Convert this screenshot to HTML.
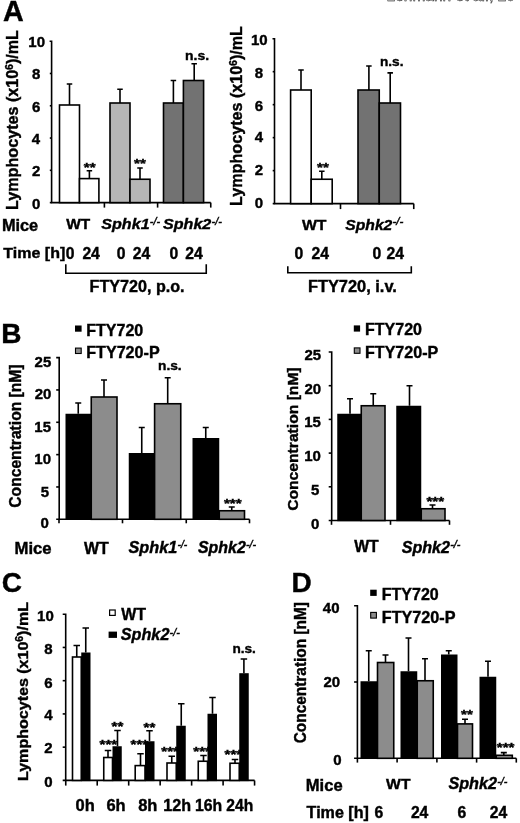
<!DOCTYPE html>
<html><head><meta charset="utf-8"><title>Figure</title>
<style>
html,body{margin:0;padding:0;background:#fff;}
svg{display:block;font-family:"Liberation Sans", Arial, Helvetica, sans-serif;font-weight:bold;fill:#000;}
text{stroke:#000;stroke-width:0.4px;}
</style></head><body>
<svg width="520" height="823" viewBox="0 0 520 823" shape-rendering="geometricPrecision">
<rect width="520" height="823" fill="#fff"/>
<text x="515" y="1.2" font-size="15.5" text-anchor="end" font-weight="normal" fill="#cfcfcf" stroke="none">Lehmann et al., 20</text>
<text x="2.9" y="21.4" font-size="28.7">A</text>
<text x="1.2" y="343.0" font-size="28">B</text>
<text x="1.8" y="592.4" font-size="28">C</text>
<text x="291.5" y="592.3" font-size="28">D</text>
<path d="M49.6 41.2H51.6V202.6H210.75" fill="none" stroke="#000" stroke-width="1.6"/>
<path d="M49.800000000000004 202.6H51.6" fill="none" stroke="#000" stroke-width="1.6"/>
<path d="M49.800000000000004 170.32H51.6" fill="none" stroke="#000" stroke-width="1.6"/>
<path d="M49.800000000000004 138.04H51.6" fill="none" stroke="#000" stroke-width="1.6"/>
<path d="M49.800000000000004 105.76H51.6" fill="none" stroke="#000" stroke-width="1.6"/>
<path d="M49.800000000000004 73.48H51.6" fill="none" stroke="#000" stroke-width="1.6"/>
<path d="M104.4 202.6V207.6" fill="none" stroke="#000" stroke-width="1.6"/>
<path d="M157.6 202.6V207.6" fill="none" stroke="#000" stroke-width="1.6"/>
<path d="M210.75 202.6V207.6" fill="none" stroke="#000" stroke-width="1.6"/>
<text x="36.2" y="208.57" font-size="15" text-anchor="middle">0</text>
<text x="36.1" y="176.27" font-size="15" text-anchor="middle">2</text>
<text x="36.0" y="143.57" font-size="15" text-anchor="middle">4</text>
<text x="36.1" y="112.07" font-size="15" text-anchor="middle">6</text>
<text x="36.1" y="79.37" font-size="15" text-anchor="middle">8</text>
<text x="36.65" y="46.97" font-size="15" text-anchor="middle">10</text>
<text x="17.6" y="210" font-size="16" textLength="180" lengthAdjust="spacingAndGlyphs" transform="rotate(-90 17.6 210)">Lymphocytes (x10<tspan font-size="10" dy="-5">6</tspan><tspan dy="5">)/mL</tspan></text>
<text x="83.8" y="171.5" font-size="13" textLength="11.8" lengthAdjust="spacingAndGlyphs" stroke-width="0.35">**</text>
<text x="134.1" y="167.6" font-size="13" textLength="11.8" lengthAdjust="spacingAndGlyphs" stroke-width="0.35">**</text>
<path d="M69.5 105V84M66.75 84H72.25" fill="none" stroke="#000" stroke-width="1.6"/>
<rect x="59.5" y="105" width="20.0" height="97.6" fill="#fff" stroke="#000" stroke-width="1.6"/>
<path d="M89.4 178.6V170.75M86.65 170.75H92.15" fill="none" stroke="#000" stroke-width="1.6"/>
<rect x="79.5" y="178.6" width="19.4" height="24.0" fill="#fff" stroke="#000" stroke-width="1.6"/>
<path d="M120 103V89.25M117.25 89.25H122.75" fill="none" stroke="#000" stroke-width="1.6"/>
<rect x="110" y="103" width="20" height="99.6" fill="#b6b6b6" stroke="#000" stroke-width="1.6"/>
<path d="M140 179.25V168M137.25 168H142.75" fill="none" stroke="#000" stroke-width="1.6"/>
<rect x="130" y="179.25" width="20" height="23.35" fill="#b6b6b6" stroke="#000" stroke-width="1.6"/>
<path d="M173.4 103V80.5M170.65 80.5H176.15" fill="none" stroke="#000" stroke-width="1.6"/>
<rect x="163.5" y="103" width="19.9" height="99.6" fill="#727272" stroke="#000" stroke-width="1.6"/>
<path d="M194.2 80.5V63.75M191.45 63.75H196.95" fill="none" stroke="#000" stroke-width="1.6"/>
<rect x="183.4" y="80.5" width="20.2" height="122.1" fill="#727272" stroke="#000" stroke-width="1.6"/>
<text x="185" y="60" font-size="13.6" textLength="24" lengthAdjust="spacingAndGlyphs">n.s.</text>
<text x="1.9" y="231" font-size="15.8" textLength="36.3" lengthAdjust="spacingAndGlyphs">Mice</text>
<text x="66.2" y="229.4" font-size="15" textLength="24" lengthAdjust="spacingAndGlyphs">WT</text>
<text x="101.3" y="229.3" font-size="15.5" font-style="italic" textLength="48.3" lengthAdjust="spacingAndGlyphs">Sphk1</text>
<text x="149.79999999999998" y="224.9" font-size="10" font-style="italic" font-weight="normal" textLength="10.300000000000002" lengthAdjust="spacingAndGlyphs">-/-</text>
<text x="163" y="229.3" font-size="15.5" font-style="italic" textLength="48.3" lengthAdjust="spacingAndGlyphs">Sphk2</text>
<text x="211.5" y="224.9" font-size="10" font-style="italic" font-weight="normal" textLength="10.300000000000002" lengthAdjust="spacingAndGlyphs">-/-</text>
<text x="3.3" y="258.2" font-size="15.3" textLength="62" lengthAdjust="spacingAndGlyphs">Time [h]</text>
<text x="65.7" y="258.7" font-size="15.7">0</text>
<text x="82.4" y="258.7" font-size="15.7">24</text>
<text x="116.7" y="258.7" font-size="15.7">0</text>
<text x="132.8" y="258.7" font-size="15.7">24</text>
<text x="169.5" y="258.7" font-size="15.7">0</text>
<text x="185.3" y="258.7" font-size="15.7">24</text>
<path d="M65.8 264.3V273.3H206.25V264.3" fill="none" stroke="#000" stroke-width="1.6"/>
<text x="89.6" y="292.2" font-size="16" textLength="95" lengthAdjust="spacingAndGlyphs">FTY720, p.o.</text>
<path d="M272.5 38.7H274.5V203.6H413.75" fill="none" stroke="#000" stroke-width="1.6"/>
<path d="M272.7 203.6H274.5" fill="none" stroke="#000" stroke-width="1.6"/>
<path d="M272.7 170.62H274.5" fill="none" stroke="#000" stroke-width="1.6"/>
<path d="M272.7 137.64H274.5" fill="none" stroke="#000" stroke-width="1.6"/>
<path d="M272.7 104.66H274.5" fill="none" stroke="#000" stroke-width="1.6"/>
<path d="M272.7 71.68H274.5" fill="none" stroke="#000" stroke-width="1.6"/>
<path d="M340.5 203.6V209.1" fill="none" stroke="#000" stroke-width="1.6"/>
<path d="M413.75 203.6V209.1" fill="none" stroke="#000" stroke-width="1.6"/>
<text x="259" y="207.57" font-size="15" text-anchor="middle">0</text>
<text x="258.9" y="174.77" font-size="15" text-anchor="middle">2</text>
<text x="258.9" y="142.27" font-size="15" text-anchor="middle">4</text>
<text x="259" y="111.07" font-size="15" text-anchor="middle">6</text>
<text x="259" y="78.27" font-size="15" text-anchor="middle">8</text>
<text x="259.25" y="45.47" font-size="15" text-anchor="middle">10</text>
<text x="242.3" y="206" font-size="16" textLength="180" lengthAdjust="spacingAndGlyphs" transform="rotate(-90 242.3 206)">Lymphocytes (x10<tspan font-size="10" dy="-5">6</tspan><tspan dy="5">)/mL</tspan></text>
<text x="317.1" y="171.7" font-size="13" textLength="11.8" lengthAdjust="spacingAndGlyphs" stroke-width="0.35">**</text>
<path d="M301 90V70M298.25 70H303.75" fill="none" stroke="#000" stroke-width="1.6"/>
<rect x="290.6" y="90" width="20.6" height="113.6" fill="#fff" stroke="#000" stroke-width="1.6"/>
<path d="M321.8 179.25V171.25M319.05 171.25H324.55" fill="none" stroke="#000" stroke-width="1.6"/>
<rect x="311.2" y="179.25" width="21.0" height="24.35" fill="#fff" stroke="#000" stroke-width="1.6"/>
<path d="M368.9 90V66M366.15 66H371.65" fill="none" stroke="#000" stroke-width="1.6"/>
<rect x="358" y="90" width="21.25" height="113.6" fill="#727272" stroke="#000" stroke-width="1.6"/>
<path d="M390.2 103V72.9M387.45 72.9H392.95" fill="none" stroke="#000" stroke-width="1.6"/>
<rect x="379.25" y="103" width="21.25" height="100.6" fill="#727272" stroke="#000" stroke-width="1.6"/>
<text x="380" y="66.4" font-size="13.6" textLength="23.5" lengthAdjust="spacingAndGlyphs">n.s.</text>
<text x="301.9" y="229.8" font-size="15.5" textLength="24.6" lengthAdjust="spacingAndGlyphs">WT</text>
<text x="345.3" y="229.6" font-size="15.5" font-style="italic" textLength="47" lengthAdjust="spacingAndGlyphs">Sphk2</text>
<text x="392.5" y="225.2" font-size="10" font-style="italic" font-weight="normal" textLength="10.899999999999997" lengthAdjust="spacingAndGlyphs">-/-</text>
<text x="294.4" y="258.7" font-size="15.7">0</text>
<text x="311.6" y="258.7" font-size="15.7">24</text>
<text x="372.5" y="258.7" font-size="15.7">0</text>
<text x="386.6" y="258.7" font-size="15.7">24</text>
<path d="M287.8 266.2V272.8H411.3V266.2" fill="none" stroke="#000" stroke-width="1.6"/>
<text x="307.9" y="292.3" font-size="16" textLength="89" lengthAdjust="spacingAndGlyphs">FTY720, i.v.</text>
<path d="M56.2 357.6H59.2V519.3" fill="none" stroke="#000" stroke-width="1.6"/>
<path d="M56.2 519.3H249.5" fill="none" stroke="#000" stroke-width="1.6"/>
<path d="M56.2 486.96H59.2" fill="none" stroke="#000" stroke-width="1.6"/>
<path d="M56.2 454.62H59.2" fill="none" stroke="#000" stroke-width="1.6"/>
<path d="M56.2 422.28H59.2" fill="none" stroke="#000" stroke-width="1.6"/>
<path d="M56.2 389.94H59.2" fill="none" stroke="#000" stroke-width="1.6"/>
<path d="M59 519.3V523.3" fill="none" stroke="#000" stroke-width="1.6"/>
<path d="M122.5 519.3V523.3" fill="none" stroke="#000" stroke-width="1.6"/>
<path d="M186.25 519.3V523.3" fill="none" stroke="#000" stroke-width="1.6"/>
<path d="M249.5 519.3V523.3" fill="none" stroke="#000" stroke-width="1.6"/>
<text x="44.7" y="528.07" font-size="15" text-anchor="middle">0</text>
<text x="44.8" y="496.57" font-size="15" text-anchor="middle">5</text>
<text x="42.65" y="463.87" font-size="15" text-anchor="middle">10</text>
<text x="42.65" y="431.87" font-size="15" text-anchor="middle">15</text>
<text x="43.0" y="399.37" font-size="15" text-anchor="middle">20</text>
<text x="42.9" y="366.67" font-size="15" text-anchor="middle">25</text>
<text x="21.5" y="507.7" font-size="15.7" textLength="143.3" lengthAdjust="spacingAndGlyphs" transform="rotate(-90 21.5 507.7)">Concentration [nM]</text>
<text x="223.9" y="507.9" font-size="13" textLength="17.7" lengthAdjust="spacingAndGlyphs" stroke-width="0.35">***</text>
<path d="M78.25 413.75V403M75.25 403H81.25" fill="none" stroke="#000" stroke-width="1.6"/>
<rect x="65.5" y="413.75" width="25.75" height="106.25" fill="#000"/>
<path d="M104 397V380M101.0 380H107.0" fill="none" stroke="#000" stroke-width="1.6"/>
<rect x="91.25" y="397" width="25.75" height="122.3" fill="#8c8c8c" stroke="#000" stroke-width="1.6"/>
<path d="M141.75 453V427.5M138.75 427.5H144.75" fill="none" stroke="#000" stroke-width="1.6"/>
<rect x="128.75" y="453" width="25.85" height="67.0" fill="#000"/>
<path d="M167.7 403.75V377.8M164.7 377.8H170.7" fill="none" stroke="#000" stroke-width="1.6"/>
<rect x="154.6" y="403.75" width="26.15" height="115.55" fill="#8c8c8c" stroke="#000" stroke-width="1.6"/>
<path d="M205.75 438V427.5M202.75 427.5H208.75" fill="none" stroke="#000" stroke-width="1.6"/>
<rect x="192.5" y="438" width="26.75" height="82.0" fill="#000"/>
<path d="M231.75 510.75V507M228.75 507H234.75" fill="none" stroke="#000" stroke-width="1.6"/>
<rect x="219.25" y="510.75" width="25.25" height="8.55" fill="#8c8c8c" stroke="#000" stroke-width="1.6"/>
<text x="158" y="369.7" font-size="13.6" textLength="23.7" lengthAdjust="spacingAndGlyphs">n.s.</text>
<rect x="75" y="325.5" width="6.6" height="6.2" fill="#000"/>
<rect x="75.5" y="348.1" width="5.7" height="5.4" fill="#8c8c8c" stroke="#000" stroke-width="1.1"/>
<text x="86.25" y="335.5" font-size="16.2" textLength="57" lengthAdjust="spacingAndGlyphs">FTY720</text>
<text x="86.25" y="357.5" font-size="16.2" textLength="73.4" lengthAdjust="spacingAndGlyphs">FTY720-P</text>
<text x="14.5" y="554.4" font-size="15.8" textLength="37.1" lengthAdjust="spacingAndGlyphs">Mice</text>
<text x="83.9" y="554" font-size="15.7" textLength="24.8" lengthAdjust="spacingAndGlyphs">WT</text>
<text x="128.5" y="552.7" font-size="15.7" font-style="italic" textLength="48.8" lengthAdjust="spacingAndGlyphs">Sphk1</text>
<text x="177.5" y="548.3000000000001" font-size="10" font-style="italic" font-weight="normal" textLength="9.800000000000002" lengthAdjust="spacingAndGlyphs">-/-</text>
<text x="198" y="552.7" font-size="15.7" font-style="italic" textLength="47.8" lengthAdjust="spacingAndGlyphs">Sphk2</text>
<text x="246.0" y="548.3000000000001" font-size="10" font-style="italic" font-weight="normal" textLength="10.200000000000001" lengthAdjust="spacingAndGlyphs">-/-</text>
<path d="M328.7 352H331.7V520.5" fill="none" stroke="#000" stroke-width="1.6"/>
<path d="M328.7 520.5H449.5" fill="none" stroke="#000" stroke-width="1.6"/>
<path d="M328.7 486.8H331.7" fill="none" stroke="#000" stroke-width="1.6"/>
<path d="M328.7 453.1H331.7" fill="none" stroke="#000" stroke-width="1.6"/>
<path d="M328.7 419.4H331.7" fill="none" stroke="#000" stroke-width="1.6"/>
<path d="M328.7 385.7H331.7" fill="none" stroke="#000" stroke-width="1.6"/>
<path d="M331.5 520.5V524.8" fill="none" stroke="#000" stroke-width="1.6"/>
<path d="M390.5 520.5V524.8" fill="none" stroke="#000" stroke-width="1.6"/>
<path d="M449.5 520.5V524.8" fill="none" stroke="#000" stroke-width="1.6"/>
<text x="315.1" y="528.57" font-size="15" text-anchor="middle">0</text>
<text x="315.1" y="494.77" font-size="15" text-anchor="middle">5</text>
<text x="312.55" y="461.07" font-size="15" text-anchor="middle">10</text>
<text x="312.55" y="427.17" font-size="15" text-anchor="middle">15</text>
<text x="312.8" y="393.67" font-size="15" text-anchor="middle">20</text>
<text x="312.8" y="360.07" font-size="15" text-anchor="middle">25</text>
<text x="297.7" y="510.8" font-size="15.3" textLength="143.5" lengthAdjust="spacingAndGlyphs" transform="rotate(-90 297.7 510.8)">Concentration [nM]</text>
<text x="426.4" y="506.0" font-size="13" textLength="17.7" lengthAdjust="spacingAndGlyphs" stroke-width="0.35">***</text>
<path d="M350 413.75V398.75M347.0 398.75H353.0" fill="none" stroke="#000" stroke-width="1.6"/>
<rect x="337.25" y="413.75" width="24.0" height="107.45" fill="#000"/>
<path d="M373.25 405.75V393.75M370.25 393.75H376.25" fill="none" stroke="#000" stroke-width="1.6"/>
<rect x="361.25" y="405.75" width="23.75" height="114.75" fill="#8c8c8c" stroke="#000" stroke-width="1.6"/>
<path d="M409.5 405.75V385.75M406.5 385.75H412.5" fill="none" stroke="#000" stroke-width="1.6"/>
<rect x="396.25" y="405.75" width="25.0" height="115.45" fill="#000"/>
<path d="M432.5 508.75V505M429.5 505H435.5" fill="none" stroke="#000" stroke-width="1.6"/>
<rect x="421.25" y="508.75" width="23.75" height="11.75" fill="#8c8c8c" stroke="#000" stroke-width="1.6"/>
<rect x="353.8" y="325.4" width="6.3" height="6.2" fill="#000"/>
<rect x="354.3" y="347.9" width="5.7" height="5.4" fill="#8c8c8c" stroke="#000" stroke-width="1.1"/>
<text x="365" y="335" font-size="16.2" textLength="57" lengthAdjust="spacingAndGlyphs">FTY720</text>
<text x="365" y="357.5" font-size="16.2" textLength="73.3" lengthAdjust="spacingAndGlyphs">FTY720-P</text>
<text x="354.2" y="552.4" font-size="15.7" textLength="24.5" lengthAdjust="spacingAndGlyphs">WT</text>
<text x="401.7" y="552.5" font-size="15.7" font-style="italic" textLength="48.3" lengthAdjust="spacingAndGlyphs">Sphk2</text>
<text x="450.2" y="548.1" font-size="10" font-style="italic" font-weight="normal" textLength="10.300000000000002" lengthAdjust="spacingAndGlyphs">-/-</text>
<path d="M62.7 614.2H65.7V780.4" fill="none" stroke="#000" stroke-width="1.6"/>
<path d="M62.7 780.4H254.6" fill="none" stroke="#000" stroke-width="1.6"/>
<path d="M62.7 747.16H65.7" fill="none" stroke="#000" stroke-width="1.6"/>
<path d="M62.7 713.92H65.7" fill="none" stroke="#000" stroke-width="1.6"/>
<path d="M62.7 680.68H65.7" fill="none" stroke="#000" stroke-width="1.6"/>
<path d="M62.7 647.44H65.7" fill="none" stroke="#000" stroke-width="1.6"/>
<path d="M65.75 780.4V785.6" fill="none" stroke="#000" stroke-width="1.6"/>
<path d="M97.22 780.4V785.6" fill="none" stroke="#000" stroke-width="1.6"/>
<path d="M128.69 780.4V785.6" fill="none" stroke="#000" stroke-width="1.6"/>
<path d="M160.16 780.4V785.6" fill="none" stroke="#000" stroke-width="1.6"/>
<path d="M191.63 780.4V785.6" fill="none" stroke="#000" stroke-width="1.6"/>
<path d="M223.1 780.4V785.6" fill="none" stroke="#000" stroke-width="1.6"/>
<path d="M254.57 780.4V785.6" fill="none" stroke="#000" stroke-width="1.6"/>
<text x="48.5" y="786.87" font-size="15" text-anchor="middle">0</text>
<text x="48.5" y="753.27" font-size="15" text-anchor="middle">2</text>
<text x="48.4" y="720.27" font-size="15" text-anchor="middle">4</text>
<text x="48.5" y="687.97" font-size="15" text-anchor="middle">6</text>
<text x="48.5" y="654.37" font-size="15" text-anchor="middle">8</text>
<text x="45.4" y="620.87" font-size="15" text-anchor="middle">10</text>
<text x="27.8" y="781" font-size="15.5" textLength="179" lengthAdjust="spacingAndGlyphs" transform="rotate(-90 27.8 781)">Lymphocytes (x10<tspan font-size="10" dy="-5">6</tspan><tspan dy="5">)/mL</tspan></text>
<text x="99.5" y="749.4" font-size="13" textLength="17.7" lengthAdjust="spacingAndGlyphs" stroke-width="0.35">***</text>
<text x="130.5" y="749.4" font-size="13" textLength="17.7" lengthAdjust="spacingAndGlyphs" stroke-width="0.35">***</text>
<text x="161.25" y="756.2" font-size="13" textLength="17.7" lengthAdjust="spacingAndGlyphs" stroke-width="0.35">***</text>
<text x="193.25" y="756.2" font-size="13" textLength="17.7" lengthAdjust="spacingAndGlyphs" stroke-width="0.35">***</text>
<text x="224.5" y="758.7" font-size="13" textLength="17.7" lengthAdjust="spacingAndGlyphs" stroke-width="0.35">***</text>
<text x="111.5" y="731.0" font-size="13" textLength="11.8" lengthAdjust="spacingAndGlyphs" stroke-width="0.35">**</text>
<text x="143.5" y="731.7" font-size="13" textLength="11.8" lengthAdjust="spacingAndGlyphs" stroke-width="0.35">**</text>
<path d="M76.75 657V645.5M73.5 645.5H80.0" fill="none" stroke="#000" stroke-width="1.6"/>
<rect x="72.5" y="657" width="8.75" height="123.4" fill="#fff" stroke="#000" stroke-width="1.6"/>
<path d="M85.75 652.5V628M82.5 628H89.0" fill="none" stroke="#000" stroke-width="1.6"/>
<rect x="81.25" y="652.5" width="9.25" height="128.6" fill="#000"/>
<path d="M108 757.5V750.5M104.75 750.5H111.25" fill="none" stroke="#000" stroke-width="1.6"/>
<rect x="103.75" y="757.5" width="8.75" height="22.9" fill="#fff" stroke="#000" stroke-width="1.6"/>
<path d="M117.5 746.25V730.5M114.25 730.5H120.75" fill="none" stroke="#000" stroke-width="1.6"/>
<rect x="112.5" y="746.25" width="9.25" height="34.85" fill="#000"/>
<path d="M140.5 765.6V753.75M137.25 753.75H143.75" fill="none" stroke="#000" stroke-width="1.6"/>
<rect x="135.2" y="765.6" width="9.8" height="14.8" fill="#fff" stroke="#000" stroke-width="1.6"/>
<path d="M149.5 741.25V730.75M146.25 730.75H152.75" fill="none" stroke="#000" stroke-width="1.6"/>
<rect x="145" y="741.25" width="9.5" height="39.85" fill="#000"/>
<path d="M171.75 763V756.25M168.5 756.25H175.0" fill="none" stroke="#000" stroke-width="1.6"/>
<rect x="167" y="763" width="9.25" height="17.4" fill="#fff" stroke="#000" stroke-width="1.6"/>
<path d="M181.25 725.75V703.75M178.0 703.75H184.5" fill="none" stroke="#000" stroke-width="1.6"/>
<rect x="176.25" y="725.75" width="9.5" height="55.35" fill="#000"/>
<path d="M203.5 761.25V755.5M200.25 755.5H206.75" fill="none" stroke="#000" stroke-width="1.6"/>
<rect x="198.25" y="761.25" width="9.25" height="19.15" fill="#fff" stroke="#000" stroke-width="1.6"/>
<path d="M212.5 713.75V697.5M209.25 697.5H215.75" fill="none" stroke="#000" stroke-width="1.6"/>
<rect x="207.5" y="713.75" width="9.5" height="67.35" fill="#000"/>
<path d="M235 763.25V759.5M231.75 759.5H238.25" fill="none" stroke="#000" stroke-width="1.6"/>
<rect x="230" y="763.25" width="9.25" height="17.15" fill="#fff" stroke="#000" stroke-width="1.6"/>
<path d="M243.9 673.2V659M240.65 659H247.15" fill="none" stroke="#000" stroke-width="1.6"/>
<rect x="239.25" y="673.2" width="9.5" height="107.9" fill="#000"/>
<text x="232.4" y="653" font-size="13.6" textLength="23.5" lengthAdjust="spacingAndGlyphs">n.s.</text>
<rect x="109.6" y="610.0" width="5.6" height="5.4" fill="#fff" stroke="#000" stroke-width="1.2"/>
<rect x="108.6" y="631.6" width="8.4" height="6.3" fill="#000"/>
<text x="121.3" y="619.5" font-size="16.5" textLength="24.8" lengthAdjust="spacingAndGlyphs">WT</text>
<text x="120.8" y="640.4" font-size="16.5" font-style="italic" textLength="48.6" lengthAdjust="spacingAndGlyphs">Sphk2</text>
<text x="169.6" y="636.0" font-size="10" font-style="italic" font-weight="normal" textLength="10.200000000000001" lengthAdjust="spacingAndGlyphs">-/-</text>
<text x="75.6" y="810.8" font-size="16" textLength="19.2" lengthAdjust="spacingAndGlyphs">0h</text>
<text x="106.4" y="810.8" font-size="16" textLength="19.2" lengthAdjust="spacingAndGlyphs">6h</text>
<text x="138.2" y="810.8" font-size="16" textLength="19.2" lengthAdjust="spacingAndGlyphs">8h</text>
<text x="163.2" y="810.8" font-size="16" textLength="27.8" lengthAdjust="spacingAndGlyphs">12h</text>
<text x="195" y="810.8" font-size="16" textLength="27.2" lengthAdjust="spacingAndGlyphs">16h</text>
<text x="226.3" y="810.8" font-size="16" textLength="26.9" lengthAdjust="spacingAndGlyphs">24h</text>
<path d="M354.09999999999997 605.7H357.4V758.3" fill="none" stroke="#000" stroke-width="1.6"/>
<path d="M354.09999999999997 758.3H516.3" fill="none" stroke="#000" stroke-width="1.6"/>
<path d="M354.09999999999997 682.0H357.4" fill="none" stroke="#000" stroke-width="1.6"/>
<path d="M357.4 758.3V762.5999999999999" fill="none" stroke="#000" stroke-width="1.6"/>
<path d="M397.1 758.3V762.5999999999999" fill="none" stroke="#000" stroke-width="1.6"/>
<path d="M436.9 758.3V762.5999999999999" fill="none" stroke="#000" stroke-width="1.6"/>
<path d="M476.6 758.3V762.5999999999999" fill="none" stroke="#000" stroke-width="1.6"/>
<path d="M516.3 758.3V762.5999999999999" fill="none" stroke="#000" stroke-width="1.6"/>
<text x="331.2" y="613.27" font-size="15" text-anchor="middle">40</text>
<text x="331.8" y="687.37" font-size="15" text-anchor="middle">20</text>
<text x="337.3" y="764.67" font-size="15" text-anchor="middle">0</text>
<text x="305.8" y="743.3" font-size="15.6" textLength="141.3" lengthAdjust="spacingAndGlyphs" transform="rotate(-90 305.8 743.3)">Concentration [nM]</text>
<text x="461.0" y="718.6" font-size="13" textLength="11.8" lengthAdjust="spacingAndGlyphs" stroke-width="0.35">**</text>
<text x="496.75" y="752.3" font-size="13" textLength="17.7" lengthAdjust="spacingAndGlyphs" stroke-width="0.35">***</text>
<path d="M368.75 681.25V650.75M365.75 650.75H371.75" fill="none" stroke="#000" stroke-width="1.6"/>
<rect x="360.5" y="681.25" width="17.0" height="77.75" fill="#000"/>
<path d="M385.5 662.5V655M382.5 655H388.5" fill="none" stroke="#000" stroke-width="1.6"/>
<rect x="377.5" y="662.5" width="16.25" height="95.8" fill="#8c8c8c" stroke="#000" stroke-width="1.6"/>
<path d="M408.5 671.25V638M405.5 638H411.5" fill="none" stroke="#000" stroke-width="1.6"/>
<rect x="400.5" y="671.25" width="16.75" height="87.75" fill="#000"/>
<path d="M425 680.75V658.75M422.0 658.75H428.0" fill="none" stroke="#000" stroke-width="1.6"/>
<rect x="417.25" y="680.75" width="16.0" height="77.55" fill="#8c8c8c" stroke="#000" stroke-width="1.6"/>
<path d="M448.75 654.5V650.75M445.75 650.75H451.75" fill="none" stroke="#000" stroke-width="1.6"/>
<rect x="441" y="654.5" width="16.5" height="104.5" fill="#000"/>
<path d="M465 723.9V719.3M462.0 719.3H468.0" fill="none" stroke="#000" stroke-width="1.6"/>
<rect x="457.5" y="723.9" width="15.0" height="34.4" fill="#8c8c8c" stroke="#000" stroke-width="1.6"/>
<path d="M488 676.75V661.25M485.0 661.25H491.0" fill="none" stroke="#000" stroke-width="1.6"/>
<rect x="479.5" y="676.75" width="16.75" height="82.25" fill="#000"/>
<path d="M503.8 755.3V752.6M500.8 752.6H506.8" fill="none" stroke="#000" stroke-width="1.6"/>
<rect x="496.25" y="755.3" width="16.05" height="3.0" fill="#8c8c8c" stroke="#000" stroke-width="1.6"/>
<rect x="370.2" y="589.7" width="6.5" height="6.2" fill="#000"/>
<rect x="370.7" y="612.4" width="5.7" height="5.7" fill="#8c8c8c" stroke="#000" stroke-width="1.1"/>
<text x="381.75" y="599.9" font-size="16.2" textLength="57" lengthAdjust="spacingAndGlyphs">FTY720</text>
<text x="381.75" y="622.6" font-size="16.2" textLength="73.75" lengthAdjust="spacingAndGlyphs">FTY720-P</text>
<text x="305.8" y="790.6" font-size="15.8" textLength="36.8" lengthAdjust="spacingAndGlyphs">Mice</text>
<text x="386.1" y="789" font-size="15.5" textLength="24.4" lengthAdjust="spacingAndGlyphs">WT</text>
<text x="448.4" y="788.9" font-size="15.7" font-style="italic" textLength="48.6" lengthAdjust="spacingAndGlyphs">Sphk2</text>
<text x="497.2" y="784.5" font-size="10" font-style="italic" font-weight="normal" textLength="10.200000000000001" lengthAdjust="spacingAndGlyphs">-/-</text>
<text x="306.6" y="817.9" font-size="15.7" textLength="62.3" lengthAdjust="spacingAndGlyphs">Time [h]</text>
<text x="374.6" y="818.4" font-size="15.7">6</text>
<text x="410.9" y="818.4" font-size="15.7">24</text>
<text x="457.5" y="818.4" font-size="15.7">6</text>
<text x="489.7" y="818.4" font-size="15.7">24</text>
</svg>
</body></html>
